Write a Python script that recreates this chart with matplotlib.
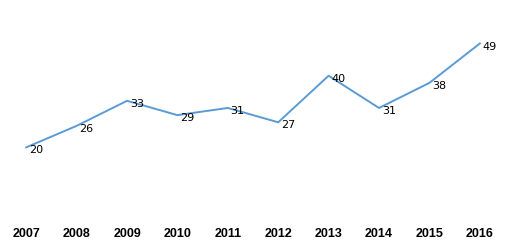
import matplotlib.pyplot as plt

years = ['2007', '2008', '2009', '2010', '2011', '2012', '2013', '2014', '2015', '2016']
values = [20, 26, 33, 29, 31, 27, 40, 31, 38, 49]

fig = plt.figure(figsize=(5.1, 2.51), dpi=100)
ax = fig.add_axes([1 / 510, 31 / 251, 504 / 510, 197 / 251])

x = list(range(len(years)))
ax.plot(x, values, color='#5B9BD5', linewidth=1.4)

for xi, v in zip(x, values):
    ax.annotate(str(v), (xi, v), xytext=(2, -1.5), textcoords='offset points',
                ha='left', va='center', fontsize=8, family='DejaVu Sans', color='black')

ax.set_xlim(-0.5, len(years) - 0.5)
ax.set_ylim(0, 55)
ax.set_xticks(x)
ax.set_xticklabels(years, fontsize=9, fontweight='bold', family='Liberation Sans')
ax.tick_params(axis='x', length=0, pad=5.5)
ax.set_yticks([])
for s in ax.spines.values():
    s.set_visible(False)

fig.savefig('out.png', dpi=100)
